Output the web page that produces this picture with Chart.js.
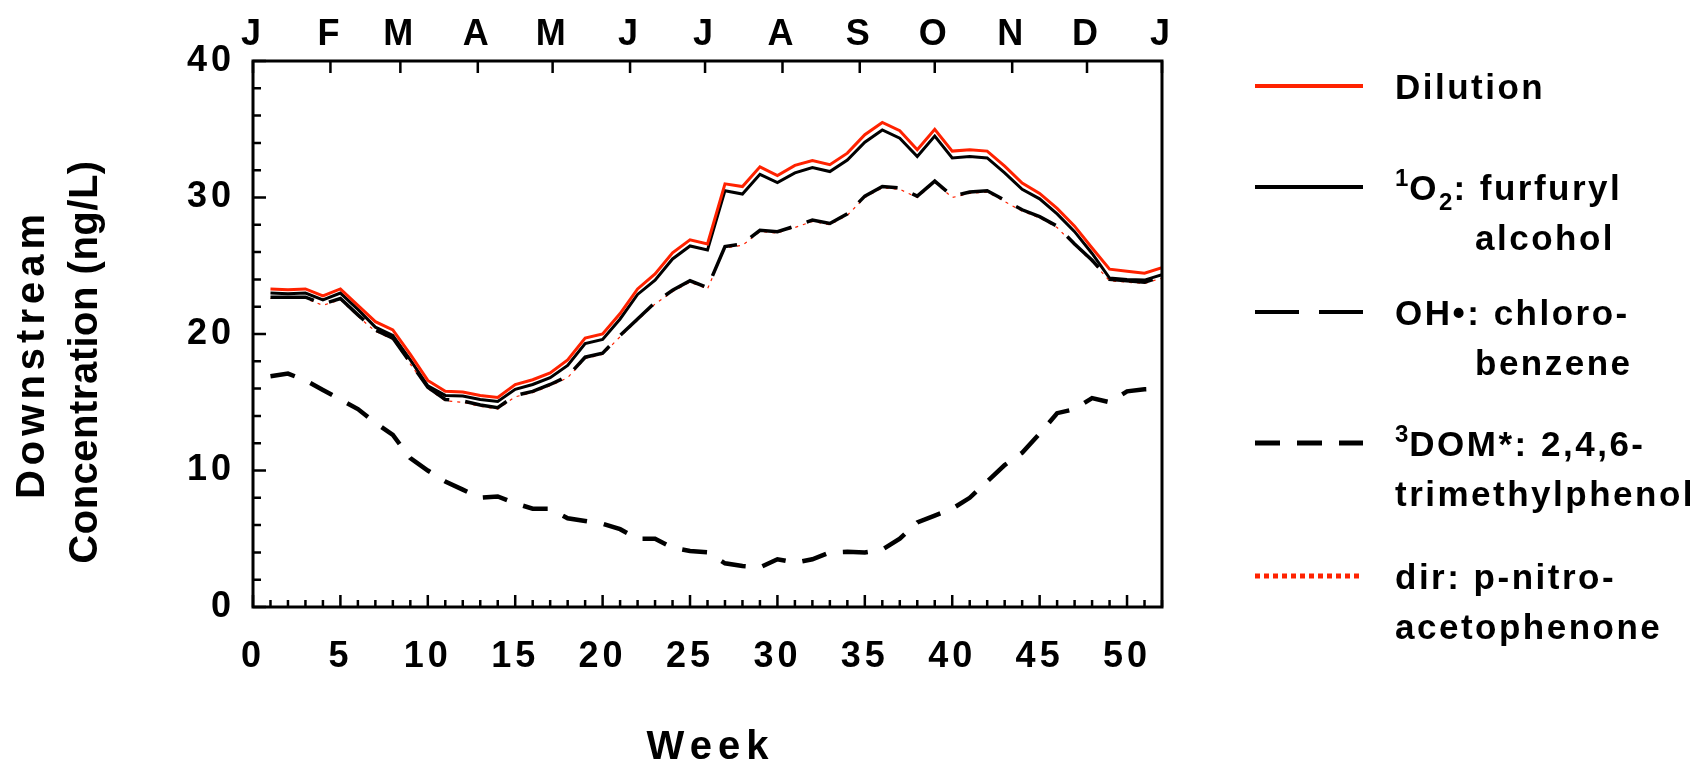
<!DOCTYPE html>
<html>
<head>
<meta charset="utf-8">
<title>Downstream Concentration by Week</title>
<script src="https://cdn.jsdelivr.net/npm/chart.js@4.4.1/dist/chart.umd.min.js"></script>
<style>
  html, body { margin: 0; padding: 0; background: #fff; }
  canvas { display: block; }
</style>
</head>
<body>
<canvas id="chart" width="1700" height="760"></canvas>
<script>
// Weekly downstream concentrations (ng/L)
const weeks = [1, 2, 3, 4, 5, 6, 7, 8, 9, 10, 11, 12, 13, 14, 15, 16, 17, 18, 19, 20, 21, 22, 23, 24, 25, 26,
  27, 28, 29, 30, 31, 32, 33, 34, 35, 36, 37, 38, 39, 40, 41, 42, 43, 44, 45, 46, 47, 48, 49, 50, 51, 52];

const dilution = [23.3, 23.25, 23.3, 22.8, 23.3, 22.1, 20.9, 20.3, 18.5, 16.6, 15.8, 15.75, 15.5, 15.35, 16.3, 16.65,
  17.15, 18.1, 19.7, 20.0, 21.5, 23.3, 24.4, 25.95, 26.9, 26.6, 31.0, 30.8, 32.25, 31.6, 32.35, 32.7, 32.4, 33.25,
  34.6, 35.5, 34.9, 33.5, 35.0, 33.4, 33.5, 33.4, 32.3, 31.05, 30.3, 29.2, 27.9, 26.3, 24.75, 24.6, 24.45, 24.85];

const singletOxygen = [23.0, 22.95, 23.0, 22.5, 23.0, 21.8, 20.5, 19.9, 18.1, 16.2, 15.5, 15.45, 15.2, 15.05, 15.95, 16.3,
  16.8, 17.7, 19.3, 19.6, 21.1, 22.9, 23.95, 25.5, 26.45, 26.15, 30.5, 30.25, 31.7, 31.1, 31.8, 32.2, 31.9, 32.75,
  34.05, 34.95, 34.35, 33.0, 34.5, 32.9, 33.0, 32.9, 31.8, 30.6, 29.9, 28.8, 27.5, 25.9, 24.1, 24.0, 23.95, 24.35];

const hydroxyl = [22.7, 22.7, 22.7, 22.2, 22.6, 21.4, 20.3, 19.7, 17.9, 16.1, 15.2, 15.1, 14.8, 14.6, 15.5, 15.8,
  16.3, 16.9, 18.3, 18.6, 19.9, 21.1, 22.3, 23.2, 23.9, 23.4, 26.4, 26.6, 27.6, 27.5, 27.9, 28.35, 28.1, 28.8,
  30.1, 30.8, 30.7, 30.1, 31.2, 30.1, 30.4, 30.5, 29.8, 29.1, 28.6, 27.9, 26.6, 25.4, 24.0, 23.9, 23.8, 24.2];

const tripletDom = [16.9, 17.1, 16.6, 15.9, 15.2, 14.5, 13.5, 12.6, 10.9, 10.0, 9.2, 8.6, 8.0, 8.1, 7.6, 7.2,
  7.2, 6.5, 6.3, 6.1, 5.7, 5.0, 5.0, 4.35, 4.1, 4.0, 3.2, 3.0, 2.9, 3.5, 3.25, 3.5, 4.0, 4.05,
  4.0, 4.2, 5.0, 6.2, 6.7, 7.2, 8.0, 9.2, 10.4, 11.3, 12.7, 14.2, 14.5, 15.3, 15.0, 15.8, 15.95, 16.0];

const direct = [22.6, 22.6, 22.6, 22.1, 22.5, 21.3, 20.2, 19.6, 17.8, 16.0, 15.1, 15.0, 14.7, 14.5, 15.4, 15.7,
  16.2, 16.8, 18.2, 18.5, 19.8, 21.0, 22.2, 23.1, 23.8, 23.3, 26.3, 26.5, 27.5, 27.4, 27.8, 28.25, 28.0, 28.7,
  30.0, 30.7, 30.6, 30.0, 31.1, 30.0, 30.3, 30.4, 29.7, 29.0, 28.5, 27.8, 26.5, 25.3, 23.9, 23.8, 23.7, 24.1];

const seriesNames = ["Dilution", "1O2: furfuryl alcohol", "OH•: chlorobenzene",
  "3DOM*: 2,4,6-trimethylphenol", "dir: p-nitroacetophenone"];

// legend text split in lines and runs ("sup" / "sub" for the small figures)
const legendText = [
  [[["Dilution", ""]]],
  [[["1", "sup"], ["O", ""], ["2", "sub"], [": furfuryl", ""]], [["alcohol", ""]]],
  [[["OH•: chloro-", ""]], [["benzene", ""]]],
  [[["3", "sup"], ["DOM*: 2,4,6-", ""]], [["trimethylphenol", ""]]],
  [[["dir: p-nitro-", ""]], [["acetophenone", ""]]]
];

// tick labels
const monthLabels = ["J", "F", "M", "A", "M", "J", "J", "A", "S", "O", "N", "D", "J"];
const monthWeeks = [0, 4.43, 8.43, 12.86, 17.14, 21.57, 25.86, 30.29, 34.71, 39, 43.43, 47.71, 52];
const weekTicks = [0, 5, 10, 15, 20, 25, 30, 35, 40, 45, 50];
const concTicks = [0, 10, 20, 30, 40];

const FONT = "'Liberation Sans', Arial, Helvetica, sans-serif";
const RED = "#ff2200";

Chart.defaults.font.family = FONT;
Chart.defaults.color = "#000";

const toPoints = vals => vals.map((v, i) => ({ x: weeks[i], y: v }));

// box, inward tick marks, axis titles and the legend
const framePlugin = {
  id: "frame",
  beforeUpdate(chart) { chart.ctx.letterSpacing = "4px"; },
  beforeDraw(chart) { chart.ctx.letterSpacing = "4px"; },
  afterDraw(chart) {
    const { ctx, chartArea: a, scales } = chart;
    ctx.save();
    ctx.letterSpacing = "0px";
    ctx.strokeStyle = "#000";
    ctx.setLineDash([]);

    ctx.lineWidth = 2.5;
    ctx.beginPath();
    for (let v = 0; v <= 40; v += 2) {
      const y = scales.y.getPixelForValue(v);
      ctx.moveTo(a.left, y);
      ctx.lineTo(a.left + (v % 10 === 0 ? 13 : 8), y);
    }
    for (let w = 0; w <= 52; w++) {
      const x = scales.x.getPixelForValue(w);
      ctx.moveTo(x, a.bottom);
      ctx.lineTo(x, a.bottom - (w % 5 === 0 ? 12 : 7));
    }
    monthWeeks.forEach(w => {
      const x = scales.xTop.getPixelForValue(w);
      ctx.moveTo(x, a.top);
      ctx.lineTo(x, a.top + 12);
    });
    ctx.stroke();

    ctx.lineWidth = 3;
    ctx.strokeRect(a.left, a.top, a.right - a.left, a.bottom - a.top);

    // axis titles
    ctx.fillStyle = "#000";
    ctx.font = "bold 40px " + FONT;
    ctx.textAlign = "center";
    ctx.textBaseline = "alphabetic";
    ctx.letterSpacing = "6px";
    ctx.fillText("Week", (a.left + a.right) / 2 + 3, 759);

    ctx.letterSpacing = "5px";
    ctx.save();
    ctx.translate(44, 354);
    ctx.rotate(-Math.PI / 2);
    ctx.fillText("Downstream", 0, 0);
    ctx.restore();
    ctx.letterSpacing = "0.5px";
    ctx.save();
    ctx.translate(97, 362);
    ctx.rotate(-Math.PI / 2);
    ctx.fillText("Concentration (ng/L)", 0, 0);
    ctx.restore();

    // legend
    const rowY = [86, 187, 312, 443, 576];
    const indent = [0, 80, 80, 0, 0];
    const sampleWidth = [4, 4, 4, 5, 5];
    const sampleDash = [[], [], [44, 20], [25, 17], [5, 4]];
    ctx.textAlign = "left";
    chart.data.datasets.forEach((ds, i) => {
      const y = rowY[i];
      ctx.strokeStyle = ds.borderColor;
      ctx.lineWidth = sampleWidth[i];
      ctx.setLineDash(sampleDash[i]);
      ctx.beginPath();
      ctx.moveTo(1255, y);
      ctx.lineTo(1363, y);
      ctx.stroke();
      ctx.setLineDash([]);

      legendText[i].forEach((line, j) => {
        let x = 1395 + (j > 0 ? indent[i] : 0);
        const base = y + 12.5 + j * 50;
        line.forEach(([t, kind]) => {
          if (kind === "") {
            ctx.font = "bold 35px " + FONT;
            ctx.letterSpacing = "2.5px";
            ctx.fillText(t, x, base);
          } else {
            ctx.font = "bold 24px " + FONT;
            ctx.letterSpacing = "1px";
            ctx.fillText(t, x, kind === "sup" ? base - 14 : base + 10);
          }
          x += ctx.measureText(t).width;
        });
      });
    });
    ctx.restore();
  }
};

const ctx = document.getElementById("chart").getContext("2d");
new Chart(ctx, {
  type: "line",
  data: {
    datasets: [
      { label: seriesNames[0], data: toPoints(dilution), borderColor: RED, borderWidth: 3 },
      { label: seriesNames[1], data: toPoints(singletOxygen), borderColor: "#000", borderWidth: 3 },
      { label: seriesNames[2], data: toPoints(hydroxyl), borderColor: "#000", borderWidth: 3.5, borderDash: [44, 16] },
      { label: seriesNames[3], data: toPoints(tripletDom), borderColor: "#000", borderWidth: 4.5, borderDash: [25, 17] },
      { label: seriesNames[4], data: toPoints(direct), borderColor: RED, borderWidth: 1.2, borderDash: [3, 5] }
    ]
  },
  options: {
    responsive: false,
    animation: false,
    devicePixelRatio: 1,
    layout: { padding: { left: 110, right: 538, top: 0, bottom: 0 } },
    elements: {
      point: { radius: 0 },
      line: { tension: 0, fill: false }
    },
    plugins: {
      legend: { display: false },
      tooltip: { enabled: false }
    },
    scales: {
      x: {
        type: "linear",
        position: "bottom",
        min: 0,
        max: 52,
        grid: { display: false, drawTicks: false },
        border: { display: false },
        afterBuildTicks: s => { s.ticks = weekTicks.map(v => ({ value: v })); },
        ticks: { font: { size: 36, weight: "bold" }, padding: 28, maxRotation: 0, autoSkip: false },
        afterFit: s => { s.height = 153; }
      },
      xTop: {
        type: "linear",
        position: "top",
        min: 0,
        max: 52,
        grid: { display: false, drawTicks: false },
        border: { display: false },
        afterBuildTicks: s => { s.ticks = monthWeeks.map(v => ({ value: v })); },
        ticks: {
          font: { size: 36, weight: "bold" },
          padding: 4,
          maxRotation: 0,
          autoSkip: false,
          callback: (v, i) => monthLabels[i]
        },
        afterFit: s => { s.height = 61; }
      },
      y: {
        min: 0,
        max: 40,
        grid: { display: false, drawTicks: false },
        border: { display: false },
        afterBuildTicks: s => { s.ticks = concTicks.map(v => ({ value: v })); },
        ticks: { font: { size: 36, weight: "bold" }, padding: 18 },
        afterFit: s => { s.width = 143; }
      }
    }
  },
  plugins: [framePlugin]
});
</script>
</body>
</html>
